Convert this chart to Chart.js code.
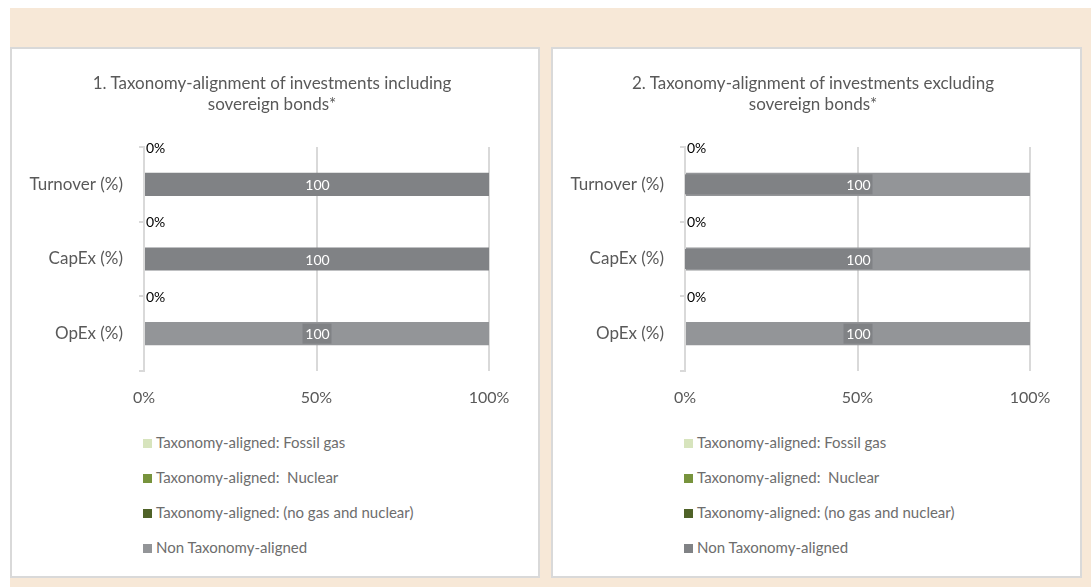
<!DOCTYPE html>
<html>
<head>
<meta charset="utf-8">
<script src="https://cdn.jsdelivr.net/npm/chart.js"></script>
<style>
  body { margin: 0; background: #fff; font-family: Lato, sans-serif; }
  #page { position: absolute; left: 10px; top: 8px; width: 1081px; height: 579px; background: #f7e8d7; }
  .panel { position: absolute; top: 47px; height: 531px; box-sizing: border-box; background: #fff; border: 2px solid #d9d9d9; }
  .panel canvas { position: absolute; left: 0; top: 0; }
  .title { position: absolute; left: 0; top: 23px; width: 520px; text-align: center; font-size: 17px; line-height: 21px; color: #595959; }
  .legend { position: absolute; left: 131px; top: 384px; }
  .legend div { height: 18px; line-height: 18px; margin-bottom: 17px; font-size: 15px; color: #6d6d6d; white-space: pre; }
  .legend span { display: inline-block; width: 9px; height: 9px; margin-right: 4px; vertical-align: 0px; }
</style>
</head>
<body>
<div id="page"></div>
<div class="panel" style="left:10px; width:530px;">
  <canvas id="chart1" width="526" height="372"></canvas>
  <div class="title" id="title1"></div>
  <div class="legend" id="legend1"></div>
</div>
<div class="panel" style="left:551px; width:531px;">
  <canvas id="chart2" width="526" height="372"></canvas>
  <div class="title" id="title2"></div>
  <div class="legend" id="legend2"></div>
</div>
<script>
const categories = ['Turnover (%)', 'CapEx (%)', 'OpEx (%)'];
const seriesNames = [
    'Taxonomy-aligned: Fossil gas',
    'Taxonomy-aligned:  Nuclear',
    'Taxonomy-aligned: (no gas and nuclear)',
    'Non Taxonomy-aligned'
];
const xTicks = ['0%', '50%', '100%'];

// chart 1: including sovereign bonds
const fossilGas1 = [0, 0, 0];
const nuclear1 = [0, 0, 0];
const alignedOther1 = [0, 0, 0];
const nonAligned1 = [100, 100, 100];

// chart 2: excluding sovereign bonds
const fossilGas2 = [0, 0, 0];
const nuclear2 = [0, 0, 0];
const alignedOther2 = [0, 0, 0];
const nonAligned2 = [100, 100, 100];

const greenColors = ['#d7e4bd', '#77933c', '#4f6228'];
const darkGrey = '#808285';
const lightGrey = '#939598';

const barLabels = {
    id: 'barLabels',
    afterDatasetsDraw(chart, args, opts) {
        const ctx = chart.ctx;
        const xs = chart.scales.x;
        const ys = chart.scales.y;
        const ds = chart.data.datasets;
        const band = ys.getPixelForValue(1) - ys.getPixelForValue(0);
        ctx.save();
        ctx.textBaseline = 'middle';
        categories.forEach(function (c, i) {
            // share of taxonomy-aligned, shown above each bar
            const aligned = ds[0].data[i] + ds[1].data[i] + ds[2].data[i];
            const yTop = ys.getPixelForValue(i) - band / 2;
            ctx.font = '14px Lato';
            ctx.fillStyle = '#000';
            ctx.textAlign = 'left';
            ctx.fillText(aligned + '%', xs.getPixelForValue(aligned) + 2, yTop + 1);

            // value of the non-aligned part
            const v = ds[3].data[i];
            const xMid = xs.getPixelForValue(aligned + v / 2);
            const yMid = ys.getPixelForValue(i);
            const x0 = opts.fromBase[i] ? xs.getPixelForValue(aligned) : xMid - 14;
            ctx.fillStyle = darkGrey;
            ctx.fillRect(x0, yMid - 10, xMid + 15 - x0, 20);
            ctx.font = '14px Lato';
            ctx.fillStyle = '#fff';
            ctx.textAlign = 'center';
            ctx.fillText(String(v), xMid + 1, yMid + 1);
        });
        ctx.restore();
    }
};

function makeChart(id, titleId, legendId, title, fossil, nuclear, other, nonAligned, nonColors, legendGrey, fromBase)
{
    const datasets = [fossil, nuclear, other, nonAligned].map(function (d, k) {
        return {
            label: seriesNames[k],
            data: d,
            backgroundColor: k < 3 ? greenColors[k] : nonColors,
            borderWidth: 0,
            barPercentage: 0.31,
            categoryPercentage: 1
        };
    });

    new Chart(document.getElementById(id), {
        type: 'bar',
        data: { labels: categories, datasets: datasets },
        plugins: [barLabels],
        options: {
            indexAxis: 'y',
            responsive: false,
            animation: false,
            layout: { padding: { left: 0, right: 49, top: 98, bottom: 0 } },
            plugins: {
                legend: { display: false },
                tooltip: { enabled: false },
                title: { display: false },
                barLabels: { fromBase: fromBase }
            },
            scales: {
                x: {
                    stacked: true,
                    min: 0,
                    max: 100,
                    afterFit: function (s) { s.height = 50; },
                    afterBuildTicks: function (s) {
                        s.ticks = xTicks.map(function (t) { return { value: parseFloat(t) }; });
                    },
                    ticks: {
                        color: '#595959',
                        padding: 17,
                        font: { family: 'Lato', size: 16 },
                        callback: function (v) { return v + '%'; }
                    },
                    grid: { color: '#d9d9d9', lineWidth: 2, drawTicks: false },
                    border: { display: false }
                },
                y: {
                    stacked: true,
                    afterFit: function (s) { s.width = 132; },
                    ticks: {
                        color: '#595959',
                        padding: 16,
                        font: { family: 'Lato', size: 17 }
                    },
                    grid: { drawOnChartArea: false, color: '#d9d9d9', lineWidth: 2, tickLength: 5 },
                    border: { color: '#d9d9d9', width: 2 }
                }
            }
        }
    });

    document.getElementById(titleId).innerHTML = title.join('<br>');

    const legend = document.getElementById(legendId);
    seriesNames.forEach(function (name, k) {
        const row = document.createElement('div');
        const sw = document.createElement('span');
        sw.style.background = k < 3 ? greenColors[k] : legendGrey;
        row.appendChild(sw);
        row.appendChild(document.createTextNode(name));
        legend.appendChild(row);
    });
}

makeChart('chart1', 'title1', 'legend1',
    ['1. Taxonomy-alignment of investments including', 'sovereign bonds*'],
    fossilGas1, nuclear1, alignedOther1, nonAligned1,
    [darkGrey, darkGrey, lightGrey], lightGrey, [false, false, false]);

makeChart('chart2', 'title2', 'legend2',
    ['2. Taxonomy-alignment of investments excluding', 'sovereign bonds*'],
    fossilGas2, nuclear2, alignedOther2, nonAligned2,
    [lightGrey, lightGrey, lightGrey], darkGrey, [true, true, false]);
</script>
</body>
</html>
